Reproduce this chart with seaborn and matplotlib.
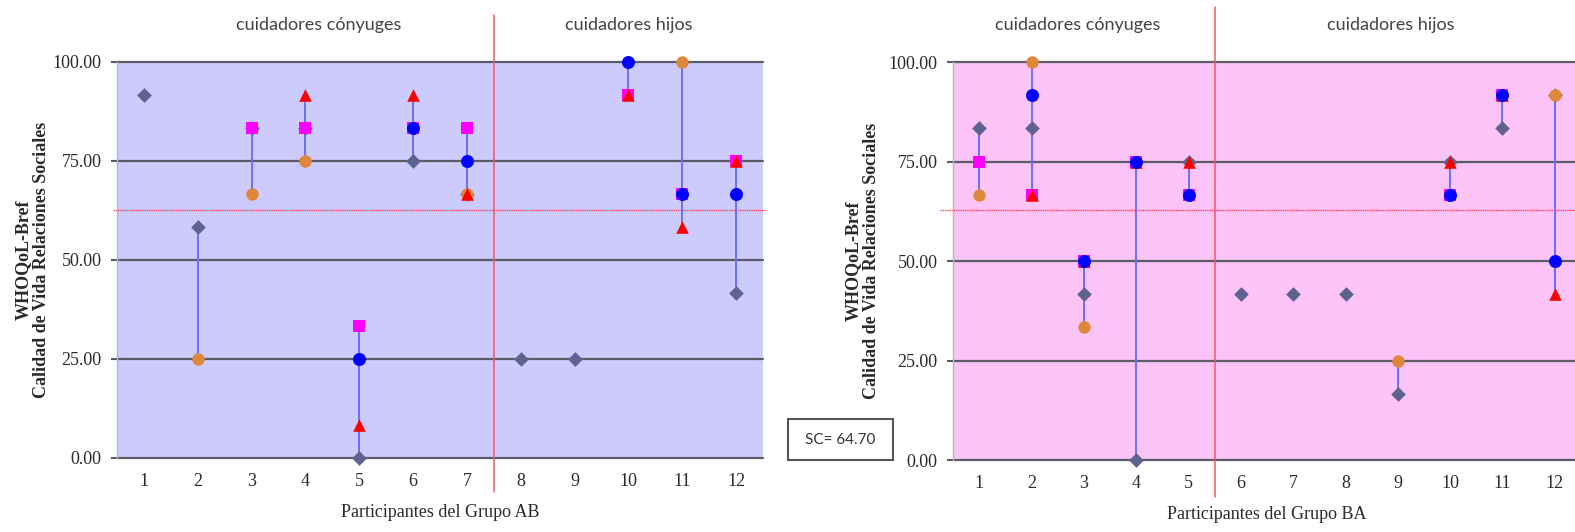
import numpy as np
import pandas as pd
import matplotlib
matplotlib.use("Agg")
import matplotlib.pyplot as plt
import matplotlib.transforms as mtransforms
from matplotlib.patches import Rectangle
import seaborn as sns

nan = np.nan
participants = list(range(1, 13))
y_ticks = [0, 25, 50, 75, 100]
cut_line = 62.7
sc_text = "SC= 64.70"

# Grupo AB: puntuaciones por participante en cada medición
ab_diamond = [91.67, 58.33, 83.33, 83.33, 0.0, 75.0, 66.67, 25.0, 25.0, nan, nan, 41.67]
ab_orange = [nan, 25.0, 66.67, 75.0, nan, nan, 66.67, nan, nan, nan, 100.0, nan]
ab_magenta = [nan, nan, 83.33, 83.33, 33.33, 83.33, 83.33, nan, nan, 91.67, 66.67, 75.0]
ab_red = [nan, nan, nan, 91.67, 8.33, 91.67, 66.67, nan, nan, 91.67, 58.33, 75.0]
ab_blue = [nan, nan, nan, nan, 25.0, 83.33, 75.0, nan, nan, 100.0, 66.67, 66.67]

# Grupo BA
ba_diamond = [83.33, 83.33, 41.67, 0.0, 75.0, 41.67, 41.67, 41.67, 16.67, 75.0, 83.33, 91.67]
ba_orange = [66.67, 100.0, 33.33, nan, nan, nan, nan, nan, 25.0, nan, nan, 91.67]
ba_magenta = [75.0, 66.67, 50.0, 75.0, 66.67, nan, nan, nan, nan, 66.67, 91.67, nan]
ba_red = [nan, 66.67, 50.0, 75.0, 75.0, nan, nan, nan, nan, 75.0, 91.67, 41.67]
ba_blue = [nan, 91.67, 50.0, 75.0, 66.67, nan, nan, nan, nan, 66.67, 91.67, 50.0]

series_order = ["diamond", "orange", "magenta", "red", "blue"]
series_style = {
    "diamond": dict(marker="D", color="#5d628e", s=56),
    "orange": dict(marker="o", color="#e0883a", s=80),
    "magenta": dict(marker="s", color="#ff00ff", s=72),
    "red": dict(marker="^", color="#ff0000", s=82),
    "blue": dict(marker="o", color="#0000ff", s=88),
}

def long_frame(group, cols):
    rows = []
    for name, vals in zip(series_order, cols):
        for p, v in zip(participants, vals):
            rows.append(dict(group=group, serie=name, participant=p, value=v))
    return pd.DataFrame(rows)

df = pd.concat([
    long_frame("AB", [ab_diamond, ab_orange, ab_magenta, ab_red, ab_blue]),
    long_frame("BA", [ba_diamond, ba_orange, ba_magenta, ba_red, ba_blue]),
]).dropna(subset=["value"])

sns.set_theme(style="white")
plt.rcParams["font.family"] = ["Liberation Serif", "DejaVu Serif"]

fig = plt.figure(figsize=(15.75, 5.32), dpi=100)
panels = {
    "AB": dict(rect=[0.0743, 0.1391, 0.4102, 0.7444], face="#cccbfb", split=7.5,
               titles=[(4.25, "cuidadores cónyuges"), (10.0, "cuidadores hijos")],
               vline=(-0.086, 1.119), dot_x=(-0.006, 1.006), ylab_x=-0.104),
    "BA": dict(rect=[0.6051, 0.1353, 0.3987, 0.7481], face="#fcc4f6", split=5.5,
               titles=[(2.89, "cuidadores cónyuges"), (8.86, "cuidadores hijos")],
               vline=(-0.093, 1.138), dot_x=(-0.02, 1.0), ylab_x=-0.116),
}

for group, cfg in panels.items():
    ax = fig.add_axes(cfg["rect"])
    ax.set_facecolor(cfg["face"])
    ax.set_xlim(0.5, 12.5)
    ax.set_ylim(0, 100)
    for side in ["top", "right", "bottom"]:
        ax.spines[side].set_visible(False)
    ax.spines["left"].set_color("#b8b8c4")
    ax.spines["left"].set_linewidth(1.0)

    for t in y_ticks:
        ax.axhline(t, color="#5c5c68", lw=1.6, zorder=1, clip_on=False)

    # dotted reference line and group separator
    ax.plot(cfg["dot_x"], [cut_line, cut_line], transform=ax.get_yaxis_transform(),
            color="#ff4060", lw=1.0, ls=(0, (1, 0.6)), clip_on=False, zorder=1.5)
    ax.plot([cfg["split"], cfg["split"]], cfg["vline"], transform=ax.get_xaxis_transform(),
            color="#ee5a6a", lw=1.1, clip_on=False, zorder=1.5)

    sub = df[df["group"] == group]
    rng = sub.groupby("participant")["value"].agg(["min", "max"]).reset_index()
    rng = rng[rng["max"] > rng["min"]]
    ax.vlines(rng["participant"], rng["min"], rng["max"], color="#6e6eff", lw=1.4, zorder=2)

    for k, name in enumerate(series_order):
        st = series_style[name]
        d = sub[sub["serie"] == name]
        sns.scatterplot(data=d, x="participant", y="value", marker=st["marker"],
                        color=st["color"], s=st["s"], linewidth=0, ax=ax,
                        zorder=3 + k, clip_on=False, legend=False)

    ax.set_xticks(participants)
    ax.set_xticklabels([str(p) for p in participants])
    ax.set_yticks(y_ticks)
    ax.set_yticklabels([f"{t:.2f}" for t in y_ticks])
    ax.tick_params(axis="x", length=0, pad=11, labelsize=13, labelcolor="#2a2a2a")
    ax.tick_params(axis="y", left=True, length=4, width=1.5, color="#5c5c68", pad=7,
                   labelsize=13, labelcolor="#2a2a2a")
    ax.set_xlabel(f"Participantes del Grupo {group}", fontsize=13, color="#2a2a2a", labelpad=10)
    ax.set_ylabel("WHOQoL-Bref\nCalidad de Vida Relaciones Sociales", fontsize=13,
                  fontweight="bold", color="#2a2a2a", linespacing=1.1)
    ax.yaxis.set_label_coords(cfg["ylab_x"], 0.5)

    trans = mtransforms.blended_transform_factory(ax.transData, fig.transFigure)
    for x, txt in cfg["titles"]:
        ax.text(x, 0.953, txt, transform=trans, ha="center", va="center",
                fontsize=13, family=["Lato", "DejaVu Sans"], color="#444444")

# boxed summary value
fig.patches.append(Rectangle((788 / 1575, 1 - 460 / 532), 105 / 1575, 41 / 532,
                             transform=fig.transFigure, fill=True, facecolor="white",
                             edgecolor="#555555", lw=1.5, zorder=5))
fig.text(840.5 / 1575, 1 - 440 / 532, sc_text, ha="center", va="center", fontsize=11,
         family=["Lato", "DejaVu Sans"], color="#333333", zorder=6)

fig.savefig("out.png", dpi=100)
